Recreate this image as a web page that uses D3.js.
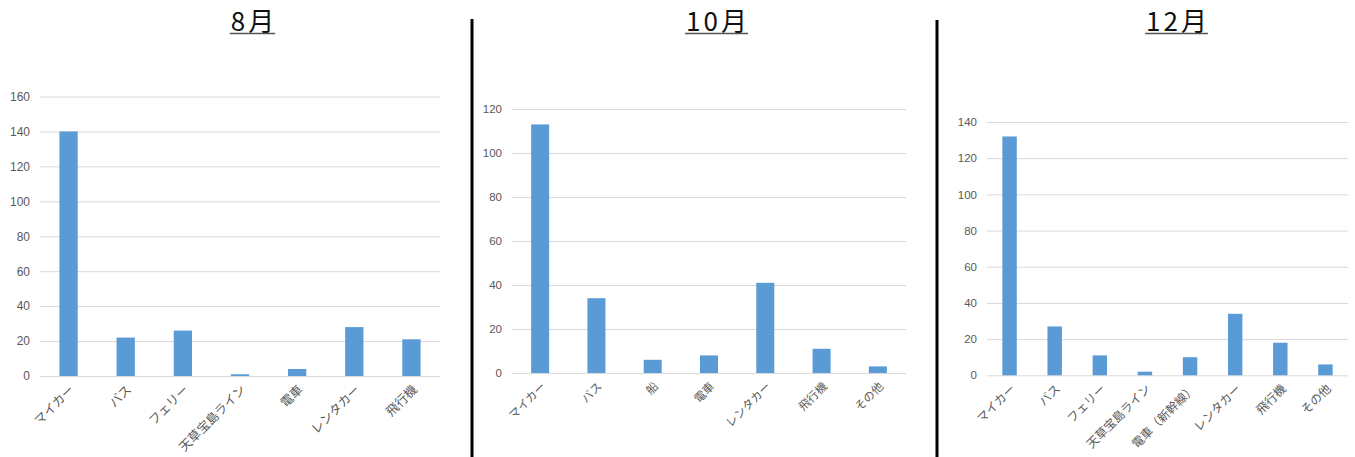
<!DOCTYPE html>
<html><head><meta charset="utf-8">
<script src="https://cdn.jsdelivr.net/npm/d3@7"></script>
<style>
body{margin:0;background:#fff;}
svg{display:block;}
</style></head>
<body>
<svg id="c" width="1355" height="457"></svg>
<script>
const titles = ["8月", "10月", "12月"];
const cats8 = ["マイカー", "バス", "フェリー", "天草宝島ライン", "電車", "レンタカー", "飛行機"];
const vals8 = [140, 22, 26, 1, 4, 28, 21];
const cats10 = ["マイカー", "バス", "船", "電車", "レンタカー", "飛行機", "その他"];
const vals10 = [113, 34, 6, 8, 41, 11, 3];
const cats12 = ["マイカー", "バス", "フェリー", "天草宝島ライン", "電車（新幹線）", "レンタカー", "飛行機", "その他"];
const vals12 = [132, 27, 11, 2, 10, 34, 18, 6];
const yMax = [160, 120, 140];

const panels = [
  {title: titles[0], cats: cats8, vals: vals8, max: yMax[0], x0: 40, x1: 440, yTop: 96.5, yBot: 376, tc: 254, tickFs: 12, lblFs: 12.5},
  {title: titles[1], cats: cats10, vals: vals10, max: yMax[1], x0: 512, x1: 906, yTop: 109, yBot: 373, tc: 718, tickFs: 11.5, lblFs: 11.5},
  {title: titles[2], cats: cats12, vals: vals12, max: yMax[2], x0: 987, x1: 1348, yTop: 122, yBot: 375.3, tc: 1178, tickFs: 11.5, lblFs: 12}
];
const dividers = [{x: 472, y1: 19}, {x: 937, y1: 20}];

const svg = d3.select("#c");
const FONT = "'Noto Sans CJK JP', 'Noto Sans', sans-serif";
const TICKFONT = "'Liberation Sans', 'Noto Sans', sans-serif";

panels.forEach(p => {
  const g = svg.append("g");
  const x = d3.scaleBand().domain(p.cats).range([p.x0, p.x1]).paddingInner(0.68).paddingOuter(0.34);
  const y = d3.scaleLinear().domain([0, p.max]).range([p.yBot, p.yTop]);

  const yAxis = d3.axisLeft(y).tickValues(d3.range(0, p.max + 1, 20)).tickSize(-(p.x1 - p.x0)).tickPadding(10);
  const ga = g.append("g").attr("transform", `translate(${p.x0},0)`).call(yAxis);
  ga.select(".domain").remove();
  ga.selectAll(".tick line").attr("stroke", "#d9d9d9").attr("stroke-width", 1);
  ga.selectAll(".tick text").attr("fill", "#595959").attr("font-size", p.tickFs).attr("font-family", TICKFONT);

  g.selectAll("rect.bar").data(p.vals).join("rect").attr("class", "bar")
    .attr("x", (d, i) => x(p.cats[i]))
    .attr("width", x.bandwidth())
    .attr("y", d => y(d))
    .attr("height", d => y(0) - y(d))
    .attr("fill", "#5b9bd5");

  g.selectAll("text.lbl").data(p.cats).join("text").attr("class", "lbl")
    .attr("transform", d => `translate(${x(d) + x.bandwidth() / 2 + 4},${p.yBot + 12}) rotate(-45)`)
    .attr("text-anchor", "end")
    .attr("dominant-baseline", "middle")
    .attr("font-family", FONT)
    .attr("font-size", p.lblFs)
    .attr("fill", "#595959")
    .text(d => d);

  const t = g.append("text")
    .attr("x", p.tc).attr("y", 31)
    .attr("text-anchor", "middle")
    .attr("font-family", FONT)
    .attr("font-size", 26)
    .attr("font-weight", 400)
    .attr("letter-spacing", 3)
    .attr("fill", "#111")
    .text(p.title);
  const bb = t.node().getBBox();
  g.append("line").attr("x1", bb.x - 1).attr("x2", bb.x + bb.width - 2).attr("y1", 33.5).attr("y2", 33.5)
    .attr("stroke", "#555").attr("stroke-width", 1.5);
});

dividers.forEach(d => {
  svg.append("line").attr("x1", d.x).attr("x2", d.x).attr("y1", d.y1).attr("y2", 457)
    .attr("stroke", "#000").attr("stroke-width", 3);
});
</script>
</body></html>
